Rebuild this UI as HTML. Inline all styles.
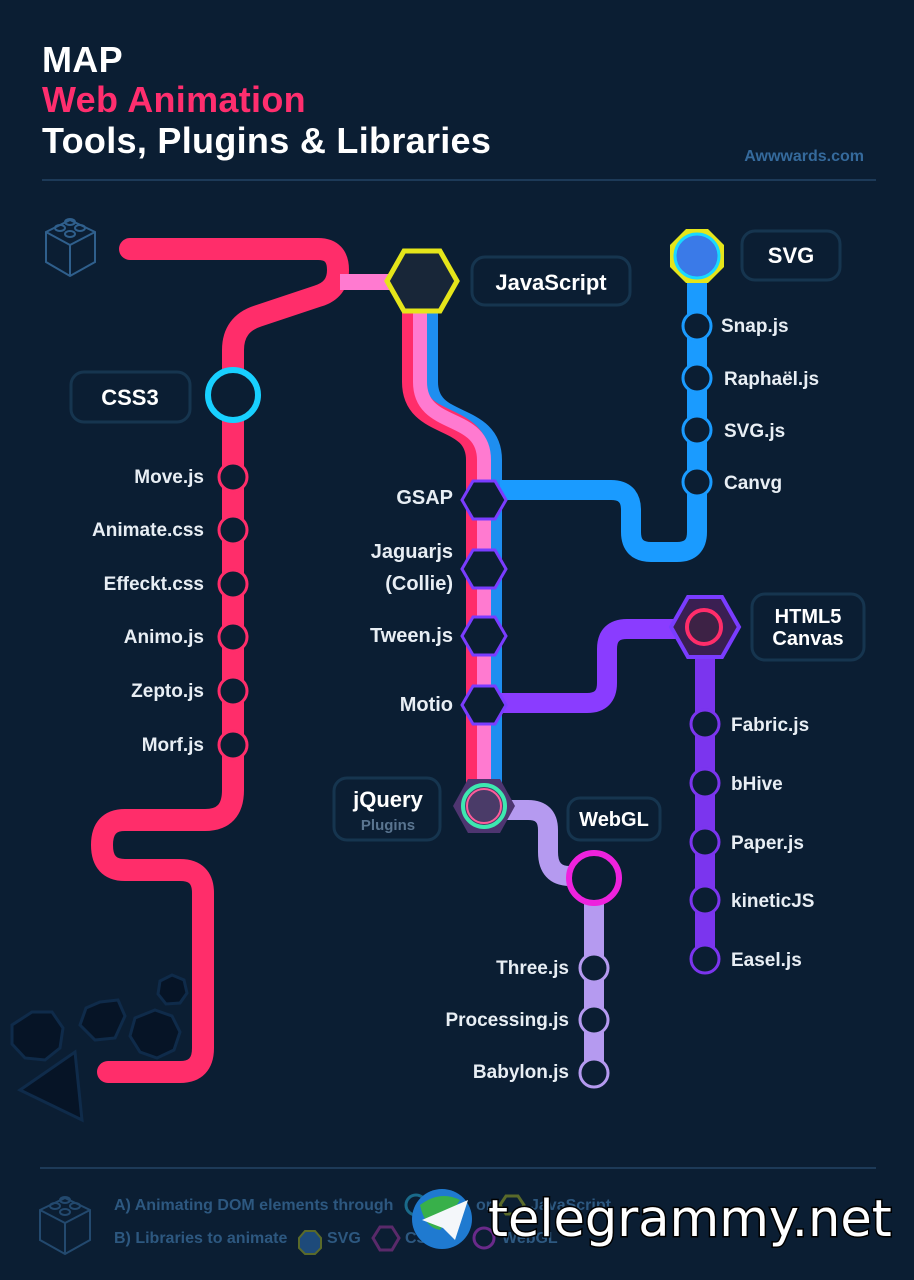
<!DOCTYPE html>
<html><head><meta charset="utf-8"><style>
html,body{margin:0;padding:0;background:#0b1e33;}
svg{display:block}
text{font-family:"Liberation Sans",sans-serif;font-weight:bold;}
</style></head><body>
<svg width="914" height="1280" viewBox="0 0 914 1280" xmlns="http://www.w3.org/2000/svg">
<rect width="914" height="1280" fill="#0b1e33"/>
<!-- Title -->
<text x="42" y="72" font-size="36" fill="#fff" letter-spacing="0.3">MAP</text>
<text x="42" y="112" font-size="36" fill="#ff2e6e" letter-spacing="0.3">Web Animation</text>
<text x="42" y="153" font-size="36" fill="#fff" letter-spacing="0.3">Tools, Plugins &amp; Libraries</text>
<text x="864" y="161" font-size="16" fill="#356a9c" text-anchor="end">Awwwards.com</text>
<line x1="42" y1="180" x2="876" y2="180" stroke="#1d3a58" stroke-width="2"/>

<!-- lego icon -->
<g fill="none" stroke="#2f5f8c" stroke-width="2">
<path d="M46 232 L70 220 L95 232 L95 262 L70 276 L46 262 Z M46 232 L70 245 L95 232 M70 245 V276"/>
<ellipse cx="60" cy="228" rx="5" ry="3"/><ellipse cx="70" cy="222" rx="5" ry="3"/><ellipse cx="80" cy="228" rx="5" ry="3"/><ellipse cx="70" cy="234" rx="5" ry="3"/>
</g>

<!-- decorative shapes -->
<g fill="#061426" stroke="#0f2b4a" stroke-width="3">
<polygon points="172,975 184,980 187,993 180,1003 166,1004 158,994 160,981"/>
<polygon points="100,1002 118,1000 125,1016 115,1038 95,1040 80,1025 86,1008"/>
<polygon points="155,1010 172,1016 180,1032 174,1050 157,1058 140,1052 130,1036 135,1018"/>
<polygon points="32,1012 52,1012 63,1028 60,1048 45,1060 25,1058 12,1044 12,1025"/>
<polygon points="20,1090 75,1052 82,1120"/>
</g>

<!-- CSS red line -->
<path d="M130 249 H318 Q338 249 338 270 Q338 290 318 296 L258 316 Q233 324 233 350 V790 Q233 820 205 820 H125 Q102 820 102 845 Q102 870 125 870 H180 Q203 870 203 893 V1048 Q203 1072 180 1072 H108" fill="none" stroke="#ff2d6a" stroke-width="22" stroke-linecap="round" stroke-linejoin="round"/>
<line x1="340" y1="282" x2="400" y2="282" stroke="#ff7ad0" stroke-width="16"/>

<!-- JS line composite -->
<path d="M426 305 V382 C426 430 490 412 490 460 V800" fill="none" stroke="#1e8ef0" stroke-width="24"/>
<path d="M414 305 V382 C414 430 478 412 478 460 V800" fill="none" stroke="#ff2d6a" stroke-width="24"/>
<path d="M420 305 V382 C420 430 484 412 484 460 V800" fill="none" stroke="#ff7ad0" stroke-width="14"/>

<path d="M500 490 H611 Q631 490 631 510 V532 Q631 552 651 552 H677 Q697 552 697 532 V270" fill="none" stroke="#1a9bff" stroke-width="20"/>
<path d="M500 703 H587 Q607 703 607 683 V649 Q607 629 627 629 H680" fill="none" stroke="#8a3cff" stroke-width="20"/>
<line x1="705" y1="640" x2="705" y2="962" stroke="#7b35ee" stroke-width="20"/>
<path d="M500 810 H528 Q548 810 548 830 V852 Q548 876 570 876" fill="none" stroke="#b59af0" stroke-width="20"/>
<line x1="594" y1="890" x2="594" y2="1073" stroke="#b59af0" stroke-width="20"/>

<!-- JS hexagon -->
<polygon points="387,281 404,251 440,251 457,281 440,311 404,311" fill="#182638" stroke="#e5e51a" stroke-width="5"/>
<rect x="472" y="257" width="158" height="48" rx="13" fill="#0b1e33" stroke="#16354f" stroke-width="3"/>
<text x="551" y="290" font-size="22" fill="#fff" text-anchor="middle">JavaScript</text>

<!-- CSS3 -->
<circle cx="233" cy="395" r="25" fill="#0b1e33" stroke="#18d0ff" stroke-width="6"/>
<rect x="71" y="372" width="119" height="50" rx="13" fill="#0b1e33" stroke="#16354f" stroke-width="3"/>
<text x="130" y="405" font-size="22" fill="#fff" text-anchor="middle">CSS3</text>
<g fill="#0b1e33" stroke="#ff2d6a" stroke-width="3">
<circle cx="233" cy="477" r="14"/><circle cx="233" cy="530" r="14"/><circle cx="233" cy="584" r="14"/><circle cx="233" cy="637" r="14"/><circle cx="233" cy="691" r="14"/><circle cx="233" cy="745" r="14"/>
</g>
<g font-size="19" fill="#e8eef4" text-anchor="end">
<text x="204" y="483">Move.js</text><text x="204" y="536">Animate.css</text><text x="204" y="590">Effeckt.css</text><text x="204" y="643">Animo.js</text><text x="204" y="697">Zepto.js</text><text x="204" y="751">Morf.js</text>
</g>

<!-- JS stations -->
<g fill="#0b1e33" stroke="#7a3cff" stroke-width="3">
<polygon points="462,500 473,481 495,481 506,500 495,519 473,519"/>
<polygon points="462,569 473,550 495,550 506,569 495,588 473,588"/>
<polygon points="462,636 473,617 495,617 506,636 495,655 473,655"/>
<polygon points="462,705 473,686 495,686 506,705 495,724 473,724"/>
</g>
<g font-size="20" fill="#e8eef4" text-anchor="end">
<text x="453" y="504">GSAP</text><text x="453" y="558">Jaguarjs</text><text x="453" y="590">(Collie)</text><text x="453" y="642">Tween.js</text><text x="453" y="711">Motio</text>
</g>

<!-- SVG node -->
<polygon points="686,229 708,229 724,245 724,267 708,283 686,283 670,267 670,245" fill="#e5e51a"/>
<circle cx="697" cy="256" r="22" fill="#3a7ae8" stroke="#19d8ff" stroke-width="3"/>
<rect x="742" y="231" width="98" height="49" rx="13" fill="#0b1e33" stroke="#16354f" stroke-width="3"/>
<text x="791" y="263" font-size="22" fill="#fff" text-anchor="middle">SVG</text>
<g fill="#0b1e33" stroke="#1a9bff" stroke-width="3">
<circle cx="697" cy="326" r="14"/><circle cx="697" cy="378" r="14"/><circle cx="697" cy="430" r="14"/><circle cx="697" cy="482" r="14"/>
</g>
<g font-size="19" fill="#e8eef4">
<text x="721" y="332">Snap.js</text><text x="724" y="385">Raphaël.js</text><text x="724" y="437">SVG.js</text><text x="724" y="489">Canvg</text>
</g>

<!-- HTML5 Canvas node -->
<polygon points="671,627 688,597 722,597 739,627 722,657 688,657" fill="#3a1f52" stroke="#7a3cff" stroke-width="4"/>
<circle cx="704" cy="627" r="17" fill="#3d2245" stroke="#ff2d6a" stroke-width="4"/>
<rect x="752" y="594" width="112" height="66" rx="13" fill="#0b1e33" stroke="#16354f" stroke-width="3"/>
<text x="808" y="623" font-size="20" fill="#fff" text-anchor="middle">HTML5</text>
<text x="808" y="645" font-size="20" fill="#fff" text-anchor="middle">Canvas</text>
<g fill="#0b1e33" stroke="#7b35ee" stroke-width="3">
<circle cx="705" cy="724" r="14"/><circle cx="705" cy="783" r="14"/><circle cx="705" cy="842" r="14"/><circle cx="705" cy="900" r="14"/><circle cx="705" cy="959" r="14"/>
</g>
<g font-size="19" fill="#e8eef4">
<text x="731" y="731">Fabric.js</text><text x="731" y="790">bHive</text><text x="731" y="849">Paper.js</text><text x="731" y="907">kineticJS</text><text x="731" y="966">Easel.js</text>
</g>

<!-- jQuery node -->
<polygon points="453,806 468,779 500,779 515,806 500,833 468,833" fill="#4e3570"/>
<circle cx="484" cy="806" r="21" fill="#4a3b68" stroke="#3de8b0" stroke-width="4"/>
<circle cx="484" cy="806" r="17" fill="none" stroke="#ff5c9a" stroke-width="2"/>
<rect x="334" y="778" width="106" height="62" rx="13" fill="#0b1e33" stroke="#16354f" stroke-width="3"/>
<text x="388" y="807" font-size="22" fill="#fff" text-anchor="middle">jQuery</text>
<text x="388" y="830" font-size="15" fill="#5a7590" text-anchor="middle">Plugins</text>

<!-- WebGL node -->
<circle cx="594" cy="878" r="25" fill="#0b1e33" stroke="#ee22dd" stroke-width="6"/>
<rect x="568" y="798" width="92" height="42" rx="12" fill="#0b1e33" stroke="#16354f" stroke-width="3"/>
<text x="614" y="826" font-size="20" fill="#fff" text-anchor="middle">WebGL</text>
<g fill="#0b1e33" stroke="#b59af0" stroke-width="3">
<circle cx="594" cy="968" r="14"/><circle cx="594" cy="1020" r="14"/><circle cx="594" cy="1073" r="14"/>
</g>
<g font-size="19" fill="#e8eef4" text-anchor="end">
<text x="569" y="974">Three.js</text><text x="569" y="1026">Processing.js</text><text x="569" y="1078">Babylon.js</text>
</g>

<!-- footer -->
<line x1="40" y1="1168" x2="876" y2="1168" stroke="#1d3a58" stroke-width="2"/>
<g fill="none" stroke="#23496e" stroke-width="2">
<path d="M40 1210 L65 1198 L90 1210 L90 1240 L65 1254 L40 1240 Z M40 1210 L65 1223 L90 1210 M65 1223 V1254"/>
<ellipse cx="55" cy="1206" rx="5" ry="3"/><ellipse cx="65" cy="1200" rx="5" ry="3"/><ellipse cx="75" cy="1206" rx="5" ry="3"/><ellipse cx="65" cy="1212" rx="5" ry="3"/>
</g>
<g font-size="16" fill="#2d5880">
<text x="114" y="1210">A) Animating DOM elements through</text>
<text x="476" y="1210">or</text>
<text x="530" y="1210">JavaScript</text>
<text x="114" y="1243">B) Libraries to animate</text>
<text x="327" y="1243">SVG</text>
<text x="405" y="1243">CSS</text>
<text x="502" y="1243">WebGL</text>
</g>
<circle cx="416" cy="1205" r="10" fill="none" stroke="#1a6a8a" stroke-width="3"/>
<polygon points="500,1205 506,1196 518,1196 524,1205 518,1214 506,1214" fill="none" stroke="#5a6a2a" stroke-width="3"/>
<polygon points="305,1231 315,1231 321,1238 321,1248 315,1254 305,1254 299,1248 299,1238" fill="#1d4a7a" stroke="#5a6a2a" stroke-width="2"/>
<polygon points="373,1238 380,1227 392,1227 399,1238 392,1250 380,1250" fill="none" stroke="#5a2a6a" stroke-width="3"/>
<circle cx="484" cy="1238" r="10" fill="none" stroke="#6a2a8a" stroke-width="3"/>

<!-- watermark -->
<circle cx="442" cy="1219" r="30" fill="#1f7ad0"/>
<path d="M420 1205 Q440 1190 460 1200 Q450 1215 440 1230 Q425 1228 420 1205Z" fill="#38b04a"/>
<polygon points="422,1220 468,1200 455,1240 443,1228" fill="#f4f7fa"/>
<text x="488" y="1236" font-size="51" fill="#fff" stroke="#000" stroke-width="3" paint-order="stroke" style="font-family:'DejaVu Sans','Liberation Sans',sans-serif;font-weight:normal">telegrammy.net</text>
</svg>
</body></html>
